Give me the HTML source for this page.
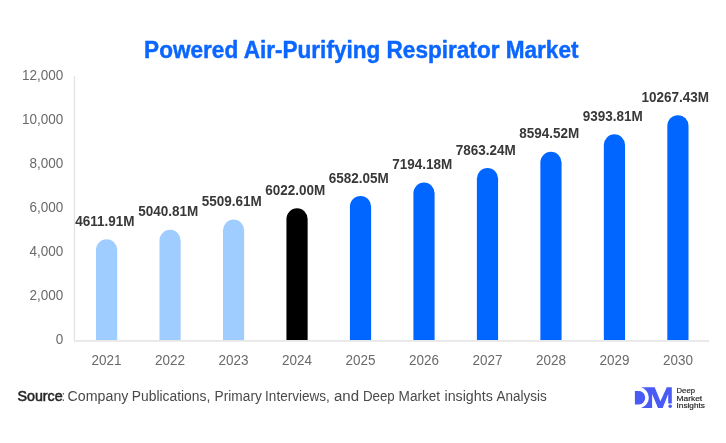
<!DOCTYPE html>
<html><head><meta charset="utf-8"><style>
html,body{margin:0;padding:0;background:#fff;}
body{width:726px;height:443px;overflow:hidden;position:relative;}
svg{position:absolute;left:0;top:0;will-change:transform;}
text{font-family:"Liberation Sans",sans-serif;}
.title{font-size:22.58px;font-weight:bold;text-anchor:middle;fill:#0a66ff;stroke:#0a66ff;stroke-width:0.4px;}
.yl{font-size:13.5px;fill:#6a6a6a;text-anchor:end;}
.xl{font-size:13.5px;fill:#6a6a6a;text-anchor:middle;}
.dl{font-size:13.5px;font-weight:bold;fill:#383838;text-anchor:middle;}
.fb{font-size:13.5px;fill:#262626;stroke:#262626;stroke-width:0.5px;}
.fr{font-size:13.5px;fill:#4a4a4a;}
.lg{font-size:6.6px;fill:#1e1e1e;stroke:#1e1e1e;stroke-width:0.15px;}
</style></head><body>
<svg width="726" height="443" viewBox="0 0 726 443">
<text transform="translate(361.30,57.90) scale(1,1.05)" class="title" >Powered Air-Purifying Respirator Market</text>
<rect x="73.8" y="76" width="1.3" height="265" fill="#e3e3e3"/>
<rect x="74" y="340" width="635" height="1.8" fill="#e8e8e8"/>
<text transform="translate(63.30,343.80) scale(1,1.1)" class="yl" >0</text>
<text transform="translate(63.30,299.80) scale(1,1.1)" class="yl" >2,000</text>
<text transform="translate(63.30,255.80) scale(1,1.1)" class="yl" >4,000</text>
<text transform="translate(63.30,211.80) scale(1,1.1)" class="yl" >6,000</text>
<text transform="translate(63.30,167.80) scale(1,1.1)" class="yl" >8,000</text>
<text transform="translate(63.30,123.80) scale(1,1.1)" class="yl" >10,000</text>
<text transform="translate(63.30,79.80) scale(1,1.1)" class="yl" >12,000</text>
<path d="M96.00,340 V249.87 A10.6,10.6 0 0 1 117.20,249.87 V340 Z" fill="#a0cdff"/>
<text transform="translate(104.80,225.87) scale(1,1.05)" class="dl" >4611.91M</text>
<text transform="translate(106.60,365.30) scale(1,1.1)" class="xl" >2021</text>
<path d="M159.48,340 V240.45 A10.6,10.6 0 0 1 180.68,240.45 V340 Z" fill="#a0cdff"/>
<text transform="translate(168.28,216.45) scale(1,1.05)" class="dl" >5040.81M</text>
<text transform="translate(170.08,365.30) scale(1,1.1)" class="xl" >2022</text>
<path d="M222.96,340 V230.16 A10.6,10.6 0 0 1 244.16,230.16 V340 Z" fill="#a0cdff"/>
<text transform="translate(231.76,206.16) scale(1,1.05)" class="dl" >5509.61M</text>
<text transform="translate(233.56,365.30) scale(1,1.1)" class="xl" >2023</text>
<path d="M286.44,340 V218.92 A10.6,10.6 0 0 1 307.64,218.92 V340 Z" fill="#000000"/>
<text transform="translate(295.24,194.92) scale(1,1.05)" class="dl" >6022.00M</text>
<text transform="translate(297.04,365.30) scale(1,1.1)" class="xl" >2024</text>
<path d="M349.92,340 V206.62 A10.6,10.6 0 0 1 371.12,206.62 V340 Z" fill="#0066ff"/>
<text transform="translate(358.72,182.62) scale(1,1.05)" class="dl" >6582.05M</text>
<text transform="translate(360.52,365.30) scale(1,1.1)" class="xl" >2025</text>
<path d="M413.40,340 V193.19 A10.6,10.6 0 0 1 434.60,193.19 V340 Z" fill="#0066ff"/>
<text transform="translate(422.20,169.19) scale(1,1.05)" class="dl" >7194.18M</text>
<text transform="translate(424.00,365.30) scale(1,1.1)" class="xl" >2026</text>
<path d="M476.88,340 V178.50 A10.6,10.6 0 0 1 498.08,178.50 V340 Z" fill="#0066ff"/>
<text transform="translate(485.68,154.50) scale(1,1.05)" class="dl" >7863.24M</text>
<text transform="translate(487.48,365.30) scale(1,1.1)" class="xl" >2027</text>
<path d="M540.36,340 V162.45 A10.6,10.6 0 0 1 561.56,162.45 V340 Z" fill="#0066ff"/>
<text transform="translate(549.16,138.45) scale(1,1.05)" class="dl" >8594.52M</text>
<text transform="translate(550.96,365.30) scale(1,1.1)" class="xl" >2028</text>
<path d="M603.84,340 V144.91 A10.6,10.6 0 0 1 625.04,144.91 V340 Z" fill="#0066ff"/>
<text transform="translate(612.64,120.91) scale(1,1.05)" class="dl" >9393.81M</text>
<text transform="translate(614.44,365.30) scale(1,1.1)" class="xl" >2029</text>
<path d="M667.32,340 V125.73 A10.6,10.6 0 0 1 688.52,125.73 V340 Z" fill="#0066ff"/>
<text transform="translate(675.20,101.73) scale(1,1.05)" class="dl" >10267.43M</text>
<text transform="translate(677.92,365.30) scale(1,1.1)" class="xl" >2030</text>
<text transform="translate(17.40,400.60) scale(1,1.1)" class="fb" textLength="45.3" lengthAdjust="spacingAndGlyphs">Source</text>
<text transform="translate(61.80,400.60) scale(1,1.1)" class="fr" textLength="3.1" lengthAdjust="spacingAndGlyphs">:</text>
<text transform="translate(67.60,400.60) scale(1,1.1)" class="fr" textLength="60.8" lengthAdjust="spacingAndGlyphs">Company</text>
<text transform="translate(131.80,400.60) scale(1,1.1)" class="fr" textLength="78.5" lengthAdjust="spacingAndGlyphs">Publications,</text>
<text transform="translate(214.60,400.60) scale(1,1.1)" class="fr" textLength="47.2" lengthAdjust="spacingAndGlyphs">Primary</text>
<text transform="translate(265.10,400.60) scale(1,1.1)" class="fr" textLength="64.7" lengthAdjust="spacingAndGlyphs">Interviews,</text>
<text transform="translate(334.00,400.60) scale(1,1.1)" class="fr" textLength="25.1" lengthAdjust="spacingAndGlyphs">and</text>
<text transform="translate(362.90,400.60) scale(1,1.1)" class="fr" textLength="31.8" lengthAdjust="spacingAndGlyphs">Deep</text>
<text transform="translate(398.60,400.60) scale(1,1.1)" class="fr" textLength="41.5" lengthAdjust="spacingAndGlyphs">Market</text>
<text transform="translate(444.50,400.60) scale(1,1.1)" class="fr" textLength="48.3" lengthAdjust="spacingAndGlyphs">insights</text>
<text transform="translate(496.60,400.60) scale(1,1.1)" class="fr" textLength="50.2" lengthAdjust="spacingAndGlyphs">Analysis</text>
<g fill="#4a5bf5">
<path d="M634.9,391 H639 A6.2,6.8 0 0 1 639,404.6 H634.9 Z"/>
<path d="M641.1,387.3 H654.7 L660.4,401.3 L666.8,387.3 H671.8 V403.4 H668.2 V394 L662.7,408 H658 L652.1,394 V408 H641.1 A10.8,10.8 0 0 0 641.1,387.3 Z"/>
<circle cx="670.2" cy="406.3" r="1.8"/>
</g>
<text x="676.6" y="392.8" class="lg" textLength="18.3" lengthAdjust="spacingAndGlyphs">Deep</text>
<text x="676.6" y="400.5" class="lg" textLength="25.6" lengthAdjust="spacingAndGlyphs">Market</text>
<text x="676.6" y="408.1" class="lg" textLength="28.3" lengthAdjust="spacingAndGlyphs">Insights</text>

</svg>
</body></html>
